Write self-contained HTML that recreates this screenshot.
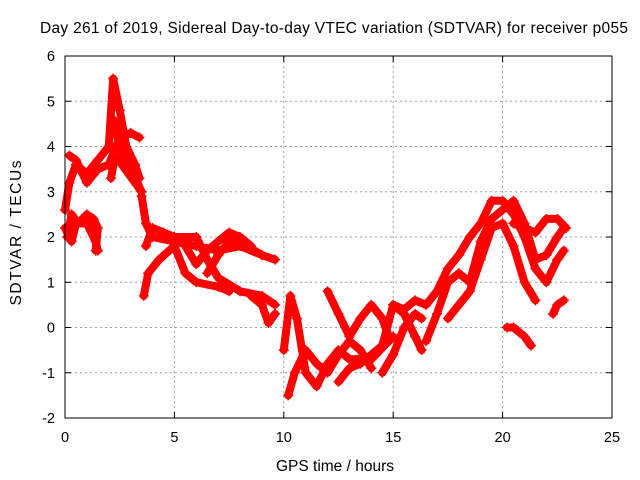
<!DOCTYPE html>
<html><head><meta charset="utf-8"><style>
body{margin:0;background:#fff}
svg{display:block;font-family:"Liberation Sans",sans-serif}
</style></head><body>
<svg id="c" width="640" height="480">
<rect width="640" height="480" fill="#fff"/>
<text x="334" y="33" font-size="15.5" text-anchor="middle" textLength="588">Day 261 of 2019, Sidereal Day-to-day VTEC variation (SDTVAR) for receiver p055</text>
<text x="335" y="471" font-size="15.5" text-anchor="middle">GPS time / hours</text>
<text transform="translate(21,233) rotate(-90)" font-size="15.5" text-anchor="middle" textLength="145">SDTVAR / TECUs</text>
<g id="grid"></g><g id="ticks"></g><g id="marks"></g>
<rect x="65" y="56" width="547" height="362" fill="none" stroke="#000"/>
</svg>
<script>
const xTicks=[0,5,10,15,20,25];
const yTicks=[-2,-1,0,1,2,3,4,5,6];
const trackA1=[[0,2.6],[0.2,3.2],[0.5,3.6],[1,3.4],[1.5,3.7],[2,4.0],[2.2,5.5],[2.5,4.8],[2.8,4.0],[3.2,3.6],[3.4,3.3]];
const trackA2=[[0.1,2.0],[0.3,2.5],[0.6,2.3],[1,2.5],[1.3,2.4],[1.5,2.2],[1.4,1.7]];
const trackA3=[[0.2,3.8],[0.5,3.7],[1.0,3.2],[1.5,3.5],[2.0,3.6],[2.5,4.2],[3.0,4.3],[3.4,4.2]];
const trackA4=[[0,2.2],[0.3,1.9],[0.5,2.3],[1.0,2.3],[1.4,1.9],[1.5,1.7]];
const trackA5=[[2.2,4.6],[2.5,4.0],[3.0,3.5],[3.3,3.2],[3.5,3.0],[2.3,3.8],[2.1,3.3]];
const trackB1=[[3.5,2.9],[3.7,2.3],[4,2.0],[5,1.9],[6,1.8],[7,1.7],[8,1.8],[9,1.6],[9.6,1.5]];
const trackB2=[[3.7,1.8],[4,2.2],[4.5,2.1],[5,2.0],[6,2.0],[6.5,1.5],[7,1.1],[8,0.8],[9,0.7],[9.6,0.5]];
const trackB3=[[3.6,0.7],[3.8,1.2],[4.3,1.5],[5,1.8],[5.5,1.2],[6,1.0],[7,0.9],[7.5,0.8]];
const trackB4=[[5.5,1.8],[6,1.4],[6.5,1.7],[7.5,2.1],[8,2.0],[8.5,1.8]];
const trackB5=[[6.5,1.2],[7,1.6],[7.5,1.9],[8,1.9],[9,1.6]];
const trackB6=[[8.5,0.7],[9.0,0.5],[9.3,0.1],[9.6,0.3]];
const trackC1=[[10,-0.5],[10.3,0.7],[10.6,0.2],[11,-1.0],[11.5,-1.3],[12,-0.8],[12.5,-0.5],[13,-0.7],[14,-0.7],[15,-0.2]];
const trackC2=[[10.2,-1.5],[10.5,-1.0],[11,-0.5],[11.5,-0.8],[12,-1.0],[12.5,-0.6],[13,-0.3],[13.5,-0.5],[14,-0.9]];
const trackC3=[[12,0.8],[12.5,0.3],[13,-0.2],[13.5,0.2],[14,0.5],[14.5,0.2],[14.8,-0.2]];
const trackC4=[[12.5,-1.2],[13,-0.9],[13.5,-0.8],[14,-0.6],[14.5,-0.4],[15,0.5],[15.5,0.3],[16,-0.2],[16.3,-0.5]];
const trackC5=[[14.5,-1.0],[15,-0.6],[15.5,0.0],[16,0.3],[16.3,0.2]];
const trackD1=[[15,0.5],[15.5,0.4],[16,0.6],[16.5,0.5],[17,0.8],[17.5,1.3],[18,1.6],[18.5,2.0],[19,2.3],[19.5,2.8],[20,2.8],[20.5,2.5],[21,2.0],[21.5,1.3],[22,1.0],[22.5,1.5],[22.8,1.7]];
const trackD2=[[16.5,-0.3],[17,0.3],[17.5,1.0],[18,1.2],[18.5,1.0],[19,1.9],[19.5,2.4],[20,2.6],[20.5,2.8],[21,2.3],[21.5,1.5],[22,1.6],[22.5,2.0],[22.8,2.2]];
const trackD3=[[17.5,0.2],[18,0.5],[18.5,0.8],[19,1.5],[19.5,2.2],[20,2.3],[20.5,1.8],[21,1.0],[21.5,0.6]];
const trackD4=[[20.5,2.3],[21,2.2],[21.5,2.1],[22,2.4],[22.5,2.4],[22.9,2.2]];
const trackD5=[[20.2,0.0],[20.5,0.0],[21,-0.2],[21.3,-0.4]];
const trackD6=[[22.3,0.3],[22.5,0.5],[22.8,0.6]];
const tracks=[trackA1,trackA2,trackA3,trackA4,trackA5,trackB1,trackB2,trackB3,trackB4,trackB5,trackB6,trackC1,trackC2,trackC3,trackC4,trackC5,trackD1,trackD2,trackD3,trackD4,trackD5,trackD6];
const X0=65,X1=612,Y0=418,Y1=56;
const sx=v=>X0+(v-0)/(25-0)*(X1-X0);
const sy=v=>Y0-(v+2)/(6+2)*(Y0-Y1);
const NS="http://www.w3.org/2000/svg";
const mk=(p,t,a)=>{const e=document.createElementNS(NS,t);for(const k in a)e.setAttribute(k,a[k]);p.appendChild(e);return e;};
const G=document.getElementById('grid'),T=document.getElementById('ticks'),M=document.getElementById('marks');
xTicks.forEach(v=>{const x=sx(v);
 if(v>0&&v<25){const l=mk(G,'line',{x1:x,x2:x,y1:Y1,y2:Y0,stroke:'#a0a0a0','stroke-dasharray':'2,3'});
 
 }
 mk(T,'line',{x1:x,x2:x,y1:Y0,y2:Y0-6,stroke:'#000'});mk(T,'line',{x1:x,x2:x,y1:Y1,y2:Y1+6,stroke:'#000'});
 const t=mk(T,'text',{x:x,y:Y0+24,'font-size':14.5,'text-anchor':'middle'});t.textContent=v;
 
 });
yTicks.forEach(v=>{const y=sy(v);
 if(v>-2&&v<6){const l=mk(G,'line',{x1:X0,x2:X1,y1:y,y2:y,stroke:'#a0a0a0','stroke-dasharray':'2,3'});
 
 }
 mk(T,'line',{x1:X0,x2:X0+6,y1:y,y2:y,stroke:'#000'});mk(T,'line',{x1:X1,x2:X1-6,y1:y,y2:y,stroke:'#000'});
 const t=mk(T,'text',{x:X0-10,y:y+5,'font-size':14.5,'text-anchor':'end'});t.textContent=v;
 
 });
tracks.forEach(tr=>{
 const pl=mk(M,'polyline',{points:tr.map(p=>sx(p[0])+','+sy(p[1])).join(' '),fill:'none',stroke:'#f00','stroke-width':8,'stroke-linejoin':'round','stroke-linecap':'round'});
 
 
 tr.forEach(p=>{const x=sx(p[0]),y=sy(p[1]);
  const g=mk(M,'path',{d:`M${x-5},${y}h10M${x},${y-5}v10`,stroke:'#f00','stroke-width':1.5});
  
  });
});
</script>
</body></html>
